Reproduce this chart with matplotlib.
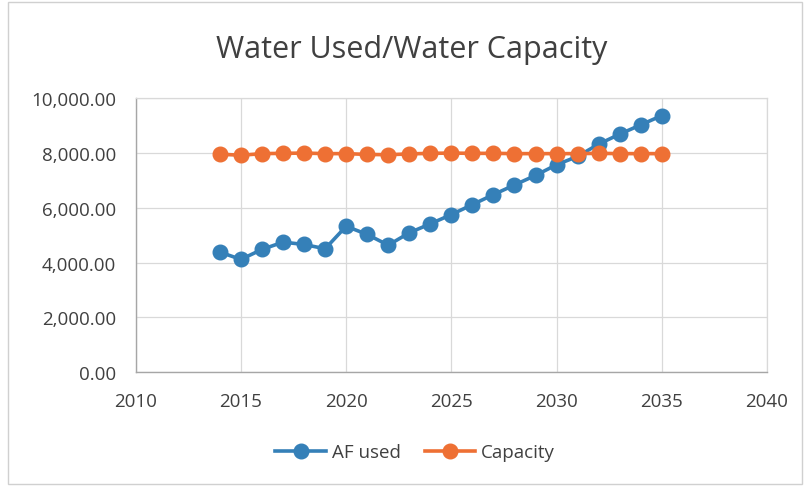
import matplotlib
matplotlib.use("Agg")
import matplotlib.pyplot as plt
from matplotlib.patches import Rectangle
from matplotlib.ticker import FuncFormatter

years = list(range(2014, 2036))
af_used = [4385, 4120, 4484, 4750, 4665, 4508, 5330, 5030, 4640, 5090, 5418,
           5756, 6120, 6484, 6836, 7185, 7575, 7878, 8327, 8690, 9030, 9367]
capacity = [7960, 7920, 7980, 7990, 8000, 7980, 7980, 7950, 7940, 7970, 7990,
            8000, 7990, 7990, 7980, 7980, 7980, 7980, 7990, 7980, 7980, 7980]
x_ticks = [2010, 2015, 2020, 2025, 2030, 2035, 2040]
y_ticks = [0, 2000, 4000, 6000, 8000, 10000]

plt.rcParams['font.family'] = ['Open Sans', 'DejaVu Sans']

fig = plt.figure(figsize=(8.06, 4.89), dpi=100)
ax = fig.add_axes([0.1684, 0.2366, 0.7832, 0.5604])

blue = '#3580b8'
orange = '#ee7034'
ax.plot(years, af_used, color=blue, lw=2.6, marker='o', ms=10.5,
        markeredgecolor=blue, label='AF used', zorder=3)
ax.plot(years, capacity, color=orange, lw=2.6, marker='o', ms=10.5,
        markeredgecolor=orange, label='Capacity', zorder=3)

ax.set_xlim(2010, 2040)
ax.set_ylim(0, 10000)
ax.set_xticks(x_ticks)
ax.set_yticks(y_ticks)
ax.yaxis.set_major_formatter(FuncFormatter(lambda v, p: f"{v:,.2f}"))
ax.grid(True, color='#d9d9d9', lw=0.9)
ax.set_axisbelow(True)
for s in ['top', 'right']:
    ax.spines[s].set_color('#d9d9d9')
    ax.spines[s].set_linewidth(0.9)
for s in ['left', 'bottom']:
    ax.spines[s].set_color('#a6a6a6')
    ax.spines[s].set_linewidth(1.0)
ax.tick_params(length=0, labelsize=13.5, colors='#404040')
ax.tick_params(axis='x', pad=14)
ax.tick_params(axis='y', pad=14)
for lbl in ax.get_yticklabels() + ax.get_xticklabels():
    lbl.set_color('#404040')

fig.text(0.511, 0.897, 'Water Used/Water Capacity', ha='center', va='center',
         fontsize=22, color='#404040')

leg = fig.legend(loc='center', bbox_to_anchor=(0.515, 0.073), ncol=2, frameon=False,
                 fontsize=13.5, handlelength=2.7, columnspacing=1.3, handletextpad=0.3)
for t in leg.get_texts():
    t.set_color('#404040')

fig.patches.append(Rectangle((0.01, 0.008), 0.985, 0.985, transform=fig.transFigure,
                             fill=False, edgecolor='#d0d0d0', lw=1.0))

fig.savefig('out.png', dpi=100)
